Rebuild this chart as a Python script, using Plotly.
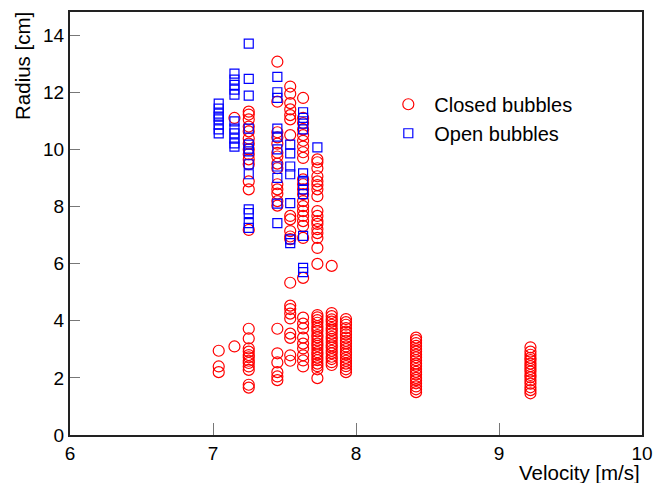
import plotly.graph_objects as go

# ---------------- data ----------------
closed_velocity = [7.04, 7.15, 7.25, 7.45, 7.54, 7.63, 7.73, 7.83, 7.93, 8.42, 9.22]
closed_radii = [
    [2.95, 2.4, 2.2],
    [11.1, 3.1],
    [11.32, 11.22, 11.05, 10.8, 10.63, 10.38, 10.2, 10.0, 9.83, 9.65, 9.48, 8.88, 8.6, 7.18,
     3.72, 3.38, 3.03, 2.92, 2.8, 2.72, 2.6, 2.52, 2.4, 2.28, 1.76, 1.66],
    [13.07, 11.67, 10.6, 10.42, 10.2, 9.88, 9.75, 9.5, 9.34, 8.78, 8.6, 8.45, 8.19, 8.03,
     3.72, 2.86, 2.54, 2.2, 2.05, 1.92],
    [12.2, 11.95, 11.62, 11.4, 11.2, 11.05, 10.5, 7.67, 7.55, 7.14, 6.95, 6.86, 5.33,
     4.53, 4.41, 4.25, 4.08, 3.55, 3.4, 2.79, 2.6],
    [11.8, 11.1, 10.92, 10.7, 10.5, 10.3, 10.1, 9.9, 9.7, 8.95, 8.78, 8.6, 8.43, 8.19, 8.01,
     7.84, 7.67, 7.49, 7.32, 6.9, 5.5, 4.11, 3.9, 3.73, 3.41, 3.2, 3.03, 2.79, 2.61, 2.4],
    [9.65, 9.55, 9.34, 9.06, 8.88, 8.75, 8.6, 8.36, 7.84, 7.67, 7.49, 7.39, 7.21, 7.07, 6.9,
     6.55, 5.99, 4.2, 4.12, 4.02, 3.93, 3.81, 3.72, 3.63, 3.5, 3.42, 3.31, 3.2, 3.12, 3.01,
     2.9, 2.82, 2.71, 2.62, 2.5, 2.41, 2.3, 1.99],
    [5.92, 4.27, 4.16, 4.05, 3.97, 3.86, 3.74, 3.66, 3.55, 3.44, 3.36, 3.25, 3.14, 3.06,
     2.95, 2.86, 2.74, 2.66, 2.55, 2.45],
    [4.06, 3.95, 3.86, 3.74, 3.62, 3.52, 3.41, 3.3, 3.21, 3.1, 3.01, 2.9, 2.82, 2.7, 2.6,
     2.5, 2.41, 2.3, 2.2],
    [3.41, 3.32, 3.22, 3.12, 3.01, 2.92, 2.81, 2.72, 2.62, 2.5, 2.42, 2.31, 2.21, 2.12,
     2.0, 1.92, 1.81, 1.7, 1.6, 1.5],
    [3.07, 2.92, 2.81, 2.7, 2.62, 2.5, 2.41, 2.31, 2.22, 2.1, 2.02, 1.91, 1.8, 1.67, 1.57, 1.46],
]

open_velocity = [7.04, 7.15, 7.25, 7.45, 7.54, 7.63, 7.73]
open_radii = [
    [11.6, 11.43, 11.25, 11.15, 11.05, 10.87, 10.7, 10.56],
    [12.65, 12.44, 12.26, 12.09, 11.92, 10.98, 10.73, 10.56, 10.38, 10.21, 10.1],
    [13.7, 12.47, 11.88, 10.73, 10.17, 10.03, 9.93, 9.48, 9.13, 7.9, 7.77, 7.42, 7.25],
    [12.54, 12.0, 11.8, 10.73, 10.45, 10.0, 9.4, 9.0, 8.1, 7.42],
    [10.17, 9.86, 9.4, 9.13, 8.12, 6.85, 6.72],
    [11.3, 11.1, 10.9, 10.7, 9.16, 8.9, 8.6, 8.43, 6.97, 5.85, 5.7],
    [10.07],
]

series_names = ["Closed bubbles", "Open bubbles"]
x_title = "Velocity [m/s]"
y_title = "Radius [cm]"
x_ticks = [6, 7, 8, 9, 10]
y_ticks = [0, 2, 4, 6, 8, 10, 12, 14]


def flatten(vels, radii):
    xs, ys = [], []
    for v, rs in zip(vels, radii):
        for r in rs:
            xs.append(v)
            ys.append(r)
    return xs, ys


cx, cy = flatten(closed_velocity, closed_radii)
ox, oy = flatten(open_velocity, open_radii)

FONT = "Liberation Sans, Arial, Helvetica, sans-serif"

fig = go.Figure()
fig.add_trace(go.Scatter(
    x=cx, y=cy, mode="markers", name=series_names[0],
    marker=dict(symbol="circle-open", size=11, color="#ff0000",
                line=dict(width=1.2, color="#ff0000")),
))
fig.add_trace(go.Scatter(
    x=ox, y=oy, mode="markers", name=series_names[1],
    marker=dict(symbol="square-open", size=9, color="#0000ff",
                line=dict(width=1.2, color="#0000ff")),
))

axis_common = dict(
    showgrid=False, zeroline=False, ticks="inside", tickcolor="#777777",
    tickwidth=1, showline=True, linecolor="#222222", linewidth=2, mirror=True,
    tickfont=dict(family=FONT, size=19, color="#000000"),
)

fig.update_layout(
    width=660, height=475,
    margin=dict(l=62, r=26, t=2, b=48),
    paper_bgcolor="white", plot_bgcolor="white",
    font=dict(family=FONT, size=19, color="#000000"),
    xaxis=dict(range=[6, 10], tickvals=x_ticks, ticklen=12, **axis_common),
    yaxis=dict(range=[0, 14.81], tickvals=y_ticks, ticklen=10, **axis_common),
    legend=dict(x=0.546, y=0.828, xanchor="left", yanchor="top",
                bgcolor="rgba(0,0,0,0)", font=dict(family=FONT, size=20),
                itemwidth=42, tracegroupgap=0),
    showlegend=True,
    annotations=[
        dict(text=x_title, xref="paper", yref="paper", x=1.0, y=-0.056,
             xanchor="right", yanchor="top", showarrow=False,
             font=dict(family=FONT, size=20.5)),
        dict(text=y_title, xref="paper", yref="paper", x=-0.082, y=1.005,
             xanchor="center", yanchor="top", textangle=-90, showarrow=False,
             font=dict(family=FONT, size=20.5)),
    ],
)

fig.write_html("out.html")
